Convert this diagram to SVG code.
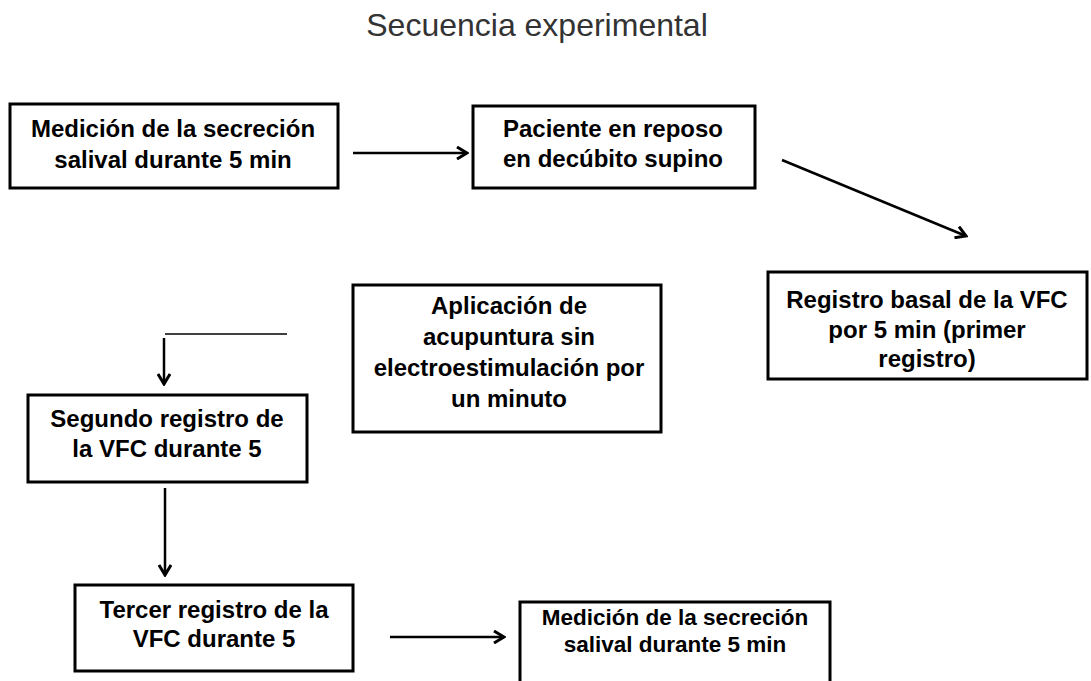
<svg xmlns="http://www.w3.org/2000/svg" width="1091" height="681" viewBox="0 0 1091 681">
<defs>
<style>
.box{fill:#fff;stroke:#000;stroke-width:3}
.t{font-family:"Liberation Sans",Arial,sans-serif;font-weight:bold;font-size:24px;fill:#000;text-anchor:middle}
.c{stroke:#000;stroke-width:2.5;fill:none}
.title{font-family:"Liberation Sans",Arial,sans-serif;font-size:32px;fill:#333;text-anchor:middle}
</style>
<marker id="ah" markerUnits="userSpaceOnUse" viewBox="0 0 14 14" refX="12" refY="7" markerWidth="14" markerHeight="14" orient="auto">
<path d="M2,1 L12,7 L2,13" fill="none" stroke="#000" stroke-width="3"/>
</marker>
</defs>
<rect width="1091" height="681" fill="#fff"/>
<text class="title" x="537" y="36">Secuencia experimental</text>
<g id="n1">
<rect class="box" x="10" y="104" width="328" height="84"/>
<text class="t" x="173" y="137">Medición de la secreción</text>
<text class="t" x="173" y="168">salival durante 5 min</text>
</g>
<g id="n2">
<rect class="box" x="473" y="106" width="282" height="82"/>
<text class="t" x="613" y="137">Paciente en reposo</text>
<text class="t" x="613" y="167">en decúbito supino</text>
</g>
<g id="n3">
<rect class="box" x="768" y="272" width="319" height="107"/>
<text class="t" x="927" y="308">Registro basal de la VFC</text>
<text class="t" x="927" y="338">por 5 min (primer</text>
<text class="t" x="927" y="367">registro)</text>
</g>
<g id="n4">
<rect class="box" x="353" y="285" width="308" height="147"/>
<text class="t" x="509" y="314">Aplicación de</text>
<text class="t" x="509" y="345">acupuntura  sin</text>
<text class="t" x="509" y="376">electroestimulación por</text>
<text class="t" x="509" y="407">un minuto</text>
</g>
<g id="n5">
<rect class="box" x="28" y="395" width="279" height="87"/>
<text class="t" x="167" y="427">Segundo registro de</text>
<text class="t" x="167" y="457">la VFC durante 5</text>
</g>
<g id="n6">
<rect class="box" x="75" y="585" width="278" height="86"/>
<text class="t" x="214" y="618">Tercer  registro de la</text>
<text class="t" x="214" y="647">VFC durante 5</text>
</g>
<g id="n7">
<rect class="box" x="520" y="602" width="310" height="95"/>
<text class="t" x="675" y="625" style="font-size:22.5px">Medición de la secreción</text>
<text class="t" x="675" y="652" style="font-size:22.5px">salival durante 5 min</text>
</g>
<g id="connectors">
<line class="c" x1="353" y1="153" x2="467" y2="153" marker-end="url(#ah)"/>
<line class="c" x1="782" y1="160" x2="966" y2="236" marker-end="url(#ah)"/>
<line x1="165" y1="334" x2="287" y2="334" stroke="#000" stroke-width="1.5"/>
<line class="c" x1="164" y1="338" x2="164" y2="384" marker-end="url(#ah)"/>
<line class="c" x1="165" y1="488" x2="165" y2="575" marker-end="url(#ah)"/>
<line class="c" x1="390" y1="637" x2="504" y2="637" marker-end="url(#ah)"/>
</g>
</svg>
